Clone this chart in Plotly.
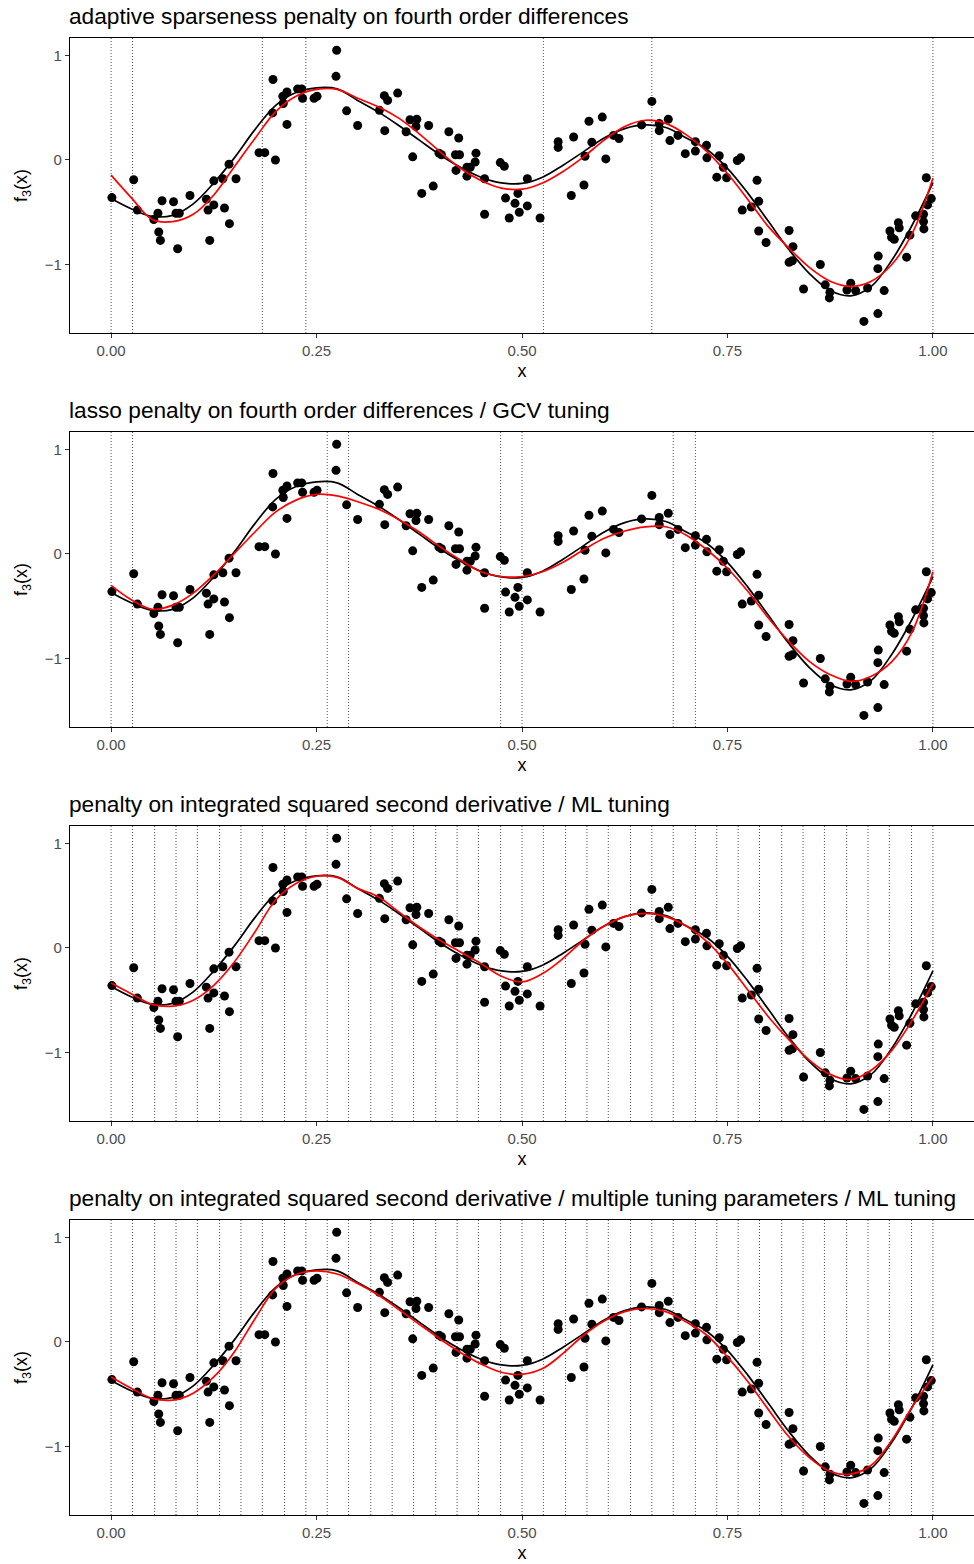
import plotly.graph_objects as go

# ---------------- data ----------------
x_obs = [0.001, 0.0275, 0.032, 0.052, 0.057, 0.058, 0.060, 0.062, 0.076, 0.079,
         0.083, 0.081, 0.096, 0.116, 0.118, 0.120, 0.125, 0.125, 0.136, 0.138,
         0.1435, 0.144, 0.152, 0.180, 0.187, 0.200, 0.1966, 0.197, 0.209, 0.2095,
         0.214, 0.214, 0.227, 0.232, 0.233, 0.247, 0.2506, 0.2737, 0.2745, 0.2866,
         0.300, 0.3265, 0.3325, 0.3365, 0.333, 0.3487, 0.359, 0.3637, 0.372, 0.371,
         0.367, 0.3864, 0.378, 0.392, 0.399, 0.402, 0.411, 0.423, 0.419, 0.424,
         0.4197, 0.433, 0.433, 0.437, 0.444, 0.443, 0.4545, 0.4545, 0.4736, 0.4785,
         0.480, 0.4845, 0.4915, 0.495, 0.4967, 0.5065, 0.5065, 0.522, 0.544, 0.544,
         0.560, 0.5628, 0.5754, 0.5767, 0.5815, 0.585, 0.5977, 0.602, 0.6114, 0.618,
         0.6455, 0.658, 0.667, 0.667, 0.678, 0.680, 0.6898, 0.6987, 0.711, 0.711,
         0.7245, 0.725, 0.737, 0.740, 0.745, 0.749, 0.762, 0.766, 0.768, 0.779,
         0.786, 0.788, 0.788, 0.797, 0.825, 0.8297, 0.825, 0.829, 0.8426, 0.863,
         0.869, 0.8747, 0.874, 0.8954, 0.900, 0.906, 0.916, 0.9205, 0.933, 0.933,
         0.9335, 0.9407, 0.9477, 0.9497, 0.953, 0.958, 0.959, 0.968, 0.972, 0.979,
         0.9886, 0.9886, 0.989, 0.992, 0.9935, 0.998]
y_obs = [-0.36, -0.19, -0.48, -0.57, -0.51, -0.69, -0.77, -0.39, -0.40, -0.51,
         -0.51, -0.85, -0.34, -0.375, -0.48, -0.77, -0.43, -0.20, -0.18, -0.46,
         -0.04, -0.61, -0.18, 0.07, 0.07, 0.00, 0.45, 0.77, 0.61, 0.54,
         0.65, 0.34, 0.68, 0.68, 0.59, 0.59, 0.61, 0.80, 1.05, 0.47,
         0.33, 0.475, 0.615, 0.57, 0.28, 0.64, 0.27, 0.385, 0.39, 0.32,
         0.03, 0.33, -0.32, -0.25, 0.065, 0.05, 0.27, 0.21, 0.05, 0.05,
         -0.10, -0.155, -0.07, -0.07, 0.065, -0.02, -0.18, -0.52, -0.025, -0.06,
         -0.365, -0.555, -0.415, -0.32, -0.50, -0.18, -0.44, -0.555, 0.175, 0.12,
         -0.34, 0.22, -0.24, 0.035, 0.37, 0.17, 0.41, 0.01, 0.235, 0.205,
         0.335, 0.56, 0.35, 0.28, 0.39, 0.185, 0.235, 0.06, 0.175, 0.085,
         0.14, 0.02, -0.165, 0.04, -0.07, -0.17, -0.005, 0.02, -0.48, -0.45,
         -0.195, -0.395, -0.68, -0.79, -0.675, -0.83, -0.98, -0.965, -1.235, -1.00,
         -1.195, -1.265, -1.32, -1.245, -1.18, -1.25, -1.545, -1.225, -1.47, -1.04,
         -0.92, -1.25, -0.68, -0.74, -0.76, -0.60, -0.65, -0.93, -0.72, -0.535,
         -0.52, -0.59, -0.66, -0.17, -0.43, -0.37]

x_grid = [0.0, 0.025, 0.05, 0.075, 0.1, 0.125, 0.15, 0.175, 0.2, 0.225,
          0.25, 0.275, 0.3, 0.325, 0.35, 0.375, 0.4, 0.425, 0.45, 0.475,
          0.5, 0.525, 0.55, 0.575, 0.6, 0.625, 0.65, 0.675, 0.7, 0.725,
          0.75, 0.775, 0.8, 0.825, 0.85, 0.875, 0.9, 0.925, 0.95, 0.975, 1.0]

truth = [-0.37, -0.47, -0.54, -0.53, -0.42, -0.22, 0.02, 0.29, 0.52, 0.645,
         0.69, 0.68, 0.57, 0.46, 0.33, 0.19, 0.05, -0.07, -0.165, -0.22,
         -0.225, -0.165, -0.05, 0.08, 0.21, 0.30, 0.335, 0.31, 0.21, 0.10,
         -0.08, -0.32, -0.59, -0.86, -1.09, -1.25, -1.30, -1.21, -0.96, -0.62, -0.22]

fit1 = [-0.145, -0.365, -0.57, -0.59, -0.52, -0.335, -0.064, 0.205, 0.46, 0.61,
        0.675, 0.675, 0.59, 0.51, 0.40, 0.25, 0.08, -0.08, -0.197, -0.27,
        -0.28, -0.22, -0.11, 0.03, 0.19, 0.32, 0.38, 0.35, 0.24, 0.08,
        -0.13, -0.38, -0.64, -0.845, -1.03, -1.16, -1.21, -1.16, -1.00, -0.70, -0.175]

fit2 = [-0.30, -0.44, -0.53, -0.49, -0.375, -0.20, 0.005, 0.21, 0.40, 0.515,
        0.57, 0.555, 0.50, 0.43, 0.33, 0.21, 0.07, -0.057, -0.17, -0.216,
        -0.216, -0.17, -0.08, 0.04, 0.15, 0.22, 0.26, 0.26, 0.18, 0.04,
        -0.137, -0.36, -0.615, -0.84, -1.03, -1.155, -1.22, -1.17, -1.03, -0.74, -0.17]

fit3 = [-0.335, -0.44, -0.54, -0.557, -0.50, -0.357, -0.134, 0.153, 0.456, 0.616,
        0.686, 0.675, 0.57, 0.49, 0.345, 0.20, 0.074, -0.038, -0.15, -0.27,
        -0.325, -0.245, -0.10, 0.074, 0.21, 0.30, 0.33, 0.30, 0.21, 0.06,
        -0.15, -0.405, -0.66, -0.88, -1.075, -1.21, -1.26, -1.17, -0.98, -0.69, -0.34]

fit4 = [-0.335, -0.445, -0.54, -0.557, -0.49, -0.335, -0.095, 0.22, 0.51, 0.645,
        0.68, 0.65, 0.56, 0.45, 0.31, 0.17, 0.03, -0.10, -0.21, -0.29,
        -0.31, -0.255, -0.11, 0.064, 0.20, 0.29, 0.32, 0.29, 0.19, 0.064,
        -0.143, -0.38, -0.65, -0.91, -1.11, -1.24, -1.265, -1.18, -0.94, -0.62, -0.335]

knots1 = [0.0, 0.026, 0.184, 0.237, 0.526, 0.658, 1.0]
knots2 = [0.0, 0.026, 0.263, 0.289, 0.474, 0.5, 0.684, 0.711, 1.0]
knots_full = [0.0, 0.026, 0.053, 0.079, 0.105, 0.132, 0.158, 0.184, 0.211, 0.237,
              0.263, 0.289, 0.316, 0.342, 0.368, 0.395, 0.421, 0.447, 0.474, 0.5,
              0.526, 0.553, 0.579, 0.605, 0.632, 0.658, 0.684, 0.711, 0.737, 0.763,
              0.789, 0.816, 0.842, 0.868, 0.895, 0.921, 0.947, 0.974, 1.0]

titles = [
    "adaptive sparseness penalty on fourth order differences",
    "lasso penalty on fourth order differences / GCV tuning",
    "penalty on integrated squared second derivative / ML tuning",
    "penalty on integrated squared second derivative / multiple tuning parameters / ML tuning",
]
x_ticks = [0, 0.25, 0.5, 0.75, 1.0]
x_ticktext = ["0.00", "0.25", "0.50", "0.75", "1.00"]
y_ticks = [-1, 0, 1]
y_ticktext = ["\u22121", "0", "1"]

fits = [fit1, fit2, fit3, fit4]
knots = [knots1, knots2, knots_full, knots_full]

# ---------------- figure ----------------
W, H = 974, 1564
mt, mb = 38, 49
plot_h = H - mt - mb
panel_px = [(38, 333), (432, 727), (826, 1121), (1220, 1515)]
domains = [[(1515 - b) / plot_h, (1515 - t) / plot_h] for t, b in panel_px]

FONT = "Liberation Sans, Arial, Helvetica, sans-serif"
fig = go.Figure()
shapes = []
annotations = []
layout_axes = {}

for i in range(4):
    sfx = "" if i == 0 else str(i + 1)
    xa, ya = "x" + sfx, "y" + sfx
    for k in knots[i]:
        shapes.append(dict(type="line", xref=xa, yref=ya + " domain", x0=k, x1=k, y0=0, y1=1,
                           line=dict(color="rgba(50,50,50,0.85)", width=1, dash="1px,2px"),
                           layer="below"))
    fig.add_trace(go.Scatter(x=x_obs, y=y_obs, mode="markers", xaxis=xa, yaxis=ya,
                             marker=dict(color="black", size=9), showlegend=False, hoverinfo="skip"))
    fig.add_trace(go.Scatter(x=x_grid, y=truth, mode="lines", xaxis=xa, yaxis=ya, line_shape="spline",
                             line=dict(color="black", width=1.7), showlegend=False, hoverinfo="skip"))
    fig.add_trace(go.Scatter(x=x_grid, y=fits[i], mode="lines", xaxis=xa, yaxis=ya, line_shape="spline",
                             line=dict(color="#FF0000", width=1.7), showlegend=False, hoverinfo="skip"))
    layout_axes["xaxis" + sfx] = dict(
        domain=[0, 1], anchor=ya, range=[-0.05, 1.05], tickvals=x_ticks, ticktext=x_ticktext,
        ticks="outside", ticklen=4, tickwidth=1, tickcolor="#333333",
        tickfont=dict(size=15, color="#4D4D4D", family=FONT),
        showline=True, linecolor="black", linewidth=1.2, mirror=True,
        showgrid=False, zeroline=False,
        title=dict(text="x", font=dict(size=18, color="black", family=FONT), standoff=6))
    layout_axes["yaxis" + sfx] = dict(
        domain=domains[i], anchor=xa, range=[-1.656, 1.167], tickvals=y_ticks, ticktext=y_ticktext,
        ticks="outside", ticklen=4, tickwidth=1, tickcolor="#333333",
        tickfont=dict(size=15, color="#4D4D4D", family=FONT),
        showline=True, linecolor="black", linewidth=1.2, mirror=True,
        showgrid=False, zeroline=False,
        title=dict(text="f<sub>3</sub>(x)", font=dict(size=18, color="black", family=FONT), standoff=12))
    annotations.append(dict(text=titles[i], xref="paper", yref="paper", x=0, y=domains[i][1],
                            xanchor="left", yanchor="bottom", yshift=7, xshift=-3, showarrow=False,
                            font=dict(size=22.7, color="black", family=FONT)))

fig.update_layout(width=W, height=H, margin=dict(l=70, r=0, t=mt, b=mb),
                  paper_bgcolor="white", plot_bgcolor="white",
                  shapes=shapes, annotations=annotations, **layout_axes)

fig.write_html("out.html")
